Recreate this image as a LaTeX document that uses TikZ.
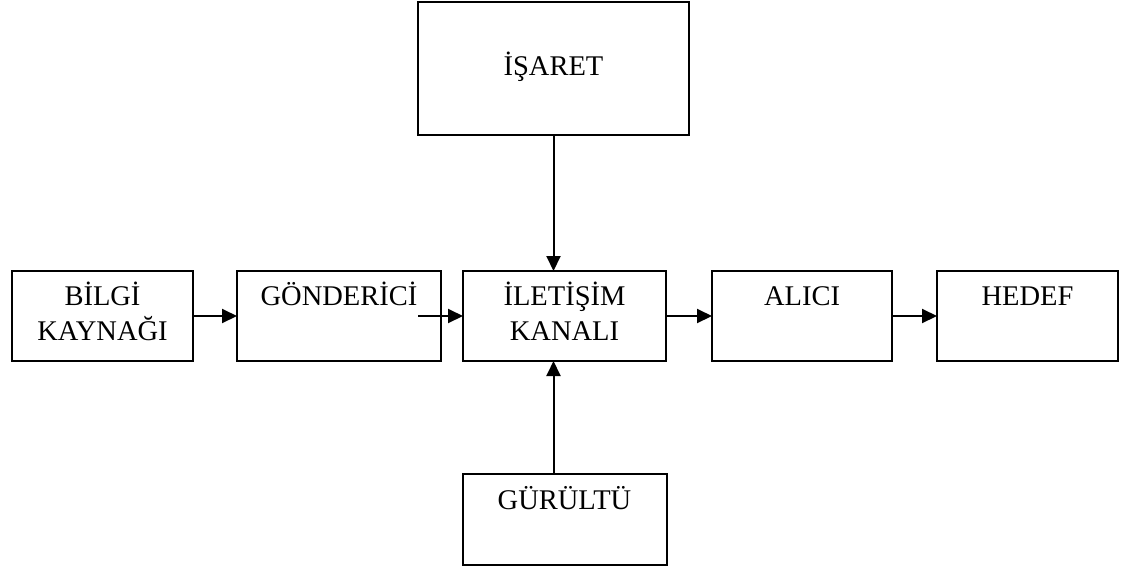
\documentclass[tikz,border=0pt]{standalone}
\usepackage{fontspec}
\setmainfont{Liberation Serif}
\usepackage{tikz}
\usetikzlibrary{arrows.meta,positioning}

\begin{document}
\begin{tikzpicture}[
  x=1pt,y=1pt,
  every node/.style={font=\fontsize{28.5}{35}\selectfont},
  b/.style={draw,line width=2pt,minimum height=90pt,
    align=center,inner sep=0pt,outer sep=0pt},
  a/.style={-{Triangle[length=15pt,width=14pt]},line width=2pt}
]
  \useasboundingbox (0,0) rectangle (1135,-571);
  \node[b,minimum width=181pt] (src) at (102.5,-316) {\strut BİLGİ\\\strut KAYNAĞI};
  \node[b,minimum width=204pt,right=44pt of src] (snd) {\strut GÖNDERİCİ\\\strut};
  \node[b,minimum width=203pt,right=22pt of snd] (chan) {\strut İLETİŞİM\\\strut KANALI};
  \node[b,minimum width=180pt,right=46pt of chan] (rcv) {\strut ALICI\\\strut};
  \node[b,minimum width=181pt,right=45pt of rcv] (dst) {\strut HEDEF\\\strut};
  \node[b,minimum width=271pt,minimum height=133pt,
    above=136pt of chan,xshift=-11pt] (sig) {\strut İŞARET};
  \node[b,minimum width=204pt,minimum height=91pt,below=113pt of chan] (noise) {\strut GÜRÜLTÜ\\\strut};
  \draw[a] (src) -- (snd);
  \draw[a] ([xshift=-23pt]snd.east) -- (chan.west);
  \draw[a] (chan) -- (rcv);
  \draw[a] (rcv) -- (dst);
  \draw[a] (sig.south) -- (sig.south |- chan.north);
  \draw[a] (sig.south |- noise.north) -- (sig.south |- chan.south);
\end{tikzpicture}
\end{document}
